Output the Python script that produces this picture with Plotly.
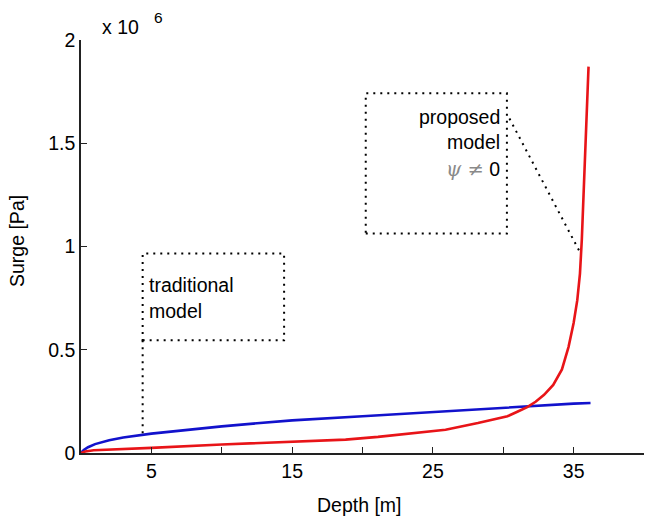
import plotly.graph_objects as go

# Surge pressure vs. depth (pressure in units of 1e6 Pa)
depth_traditional = [0, 0.2, 0.5, 1, 2, 3, 5, 7.5, 10, 12.5, 15, 20, 25, 30, 35, 36.2]
surge_traditional = [0, 0.015, 0.028, 0.043, 0.062, 0.075, 0.094, 0.113, 0.129,
                     0.144, 0.158, 0.178, 0.199, 0.220, 0.239, 0.242]

depth_proposed = [0, 0.3, 0.9, 3.2, 5, 10, 15, 18.8, 21.1, 23.5, 25.9, 28.2, 29.5,
                  30.3, 31.0, 31.7, 32.3, 32.9, 33.55, 34.17, 34.64, 35.0, 35.26,
                  35.45, 35.58, 35.82, 36.06]
surge_proposed = [0, 0.007, 0.013, 0.018, 0.025, 0.041, 0.053, 0.065, 0.078, 0.094,
                  0.113, 0.145, 0.165, 0.178, 0.200, 0.222, 0.248, 0.282, 0.330,
                  0.405, 0.514, 0.630, 0.740, 0.869, 1.031, 1.451, 1.871]

x_tick_vals = [5, 10, 15, 20, 25, 30, 35, 40]
x_tick_text = ["5", "", "15", "", "25", "", "35", ""]
y_tick_vals = [0, 0.5, 1, 1.5, 2]
y_tick_text = ["0", "0.5", "1", "1.5", "2"]

W, H = 645, 516
L, R, T, B = 81, 1, 40, 63
PW, PH = W - L - R, H - T - B

FONT = "Liberation Sans, Arial, sans-serif"
FS = 19.5


def px_x(px):
    return (px - L) / PW


def px_y(py):
    return (H - B - py) / PH


fig = go.Figure()
fig.add_trace(go.Scatter(x=depth_traditional, y=surge_traditional, mode="lines",
                         line=dict(color="#1212cc", width=2.6), showlegend=False))
fig.add_trace(go.Scatter(x=depth_proposed, y=surge_proposed, mode="lines",
                         line=dict(color="#e81418", width=2.6),
                         showlegend=False))

dot = dict(color="black", width=2, dash="2px,5px")
# callout boxes and leader lines
fig.add_shape(type="rect", x0=4.38, x1=14.43, y0=0.546, y1=0.966, line=dot, layer="above")
fig.add_shape(type="line", x0=4.38, x1=4.38, y0=0.546, y1=0.091, line=dot, layer="above")
fig.add_shape(type="rect", x0=20.23, x1=30.26, y0=1.063, y1=1.742, line=dot, layer="above")
fig.add_shape(type="line", x0=30.44, x1=35.5, y0=1.62, y1=0.966, line=dot, layer="above")

ann = []


def text(s, px, py, xanchor="left", size=FS, angle=0):
    ann.append(dict(text=s, x=px_x(px), y=px_y(py), xref="paper", yref="paper",
                    xanchor=xanchor, yanchor="middle", showarrow=False,
                    textangle=angle, font=dict(family=FONT, size=size, color="black")))


text("traditional", 147, 285)
text("model", 147, 311)
text("proposed", 502, 117, xanchor="right")
text("model", 502, 142, xanchor="right")
text("<span style='color:#8a8a8a;font-family:DejaVu Serif'><i>ψ</i> ≠</span> 0", 502, 169,
     xanchor="right")
text("x 10", 100, 27)
text("6", 152, 17, size=15.5)
text("Depth [m]", 359, 505, xanchor="center")
text("Surge [Pa]", 17, 241, xanchor="center", angle=-90)

fig.update_layout(
    width=W, height=H,
    margin=dict(l=L, r=R, t=T, b=B, pad=0),
    paper_bgcolor="white", plot_bgcolor="white",
    font=dict(family=FONT, size=FS, color="black"),
    annotations=ann,
    xaxis=dict(range=[0, 40], tickmode="array", tickvals=x_tick_vals, ticktext=x_tick_text,
               ticks="inside", ticklen=6, tickwidth=1.3, tickcolor="#222",
               showline=True, linecolor="#222", linewidth=1.5,
               showgrid=False, zeroline=False,
               tickfont=dict(family=FONT, size=FS, color="black")),
    yaxis=dict(range=[0, 2], tickmode="array", tickvals=y_tick_vals, ticktext=y_tick_text,
               ticks="inside", ticklen=6, tickwidth=1.3, tickcolor="#222",
               showline=True, linecolor="#222", linewidth=1.5,
               showgrid=False, zeroline=False,
               tickfont=dict(family=FONT, size=FS, color="black")),
)

fig.write_html("out.html")
